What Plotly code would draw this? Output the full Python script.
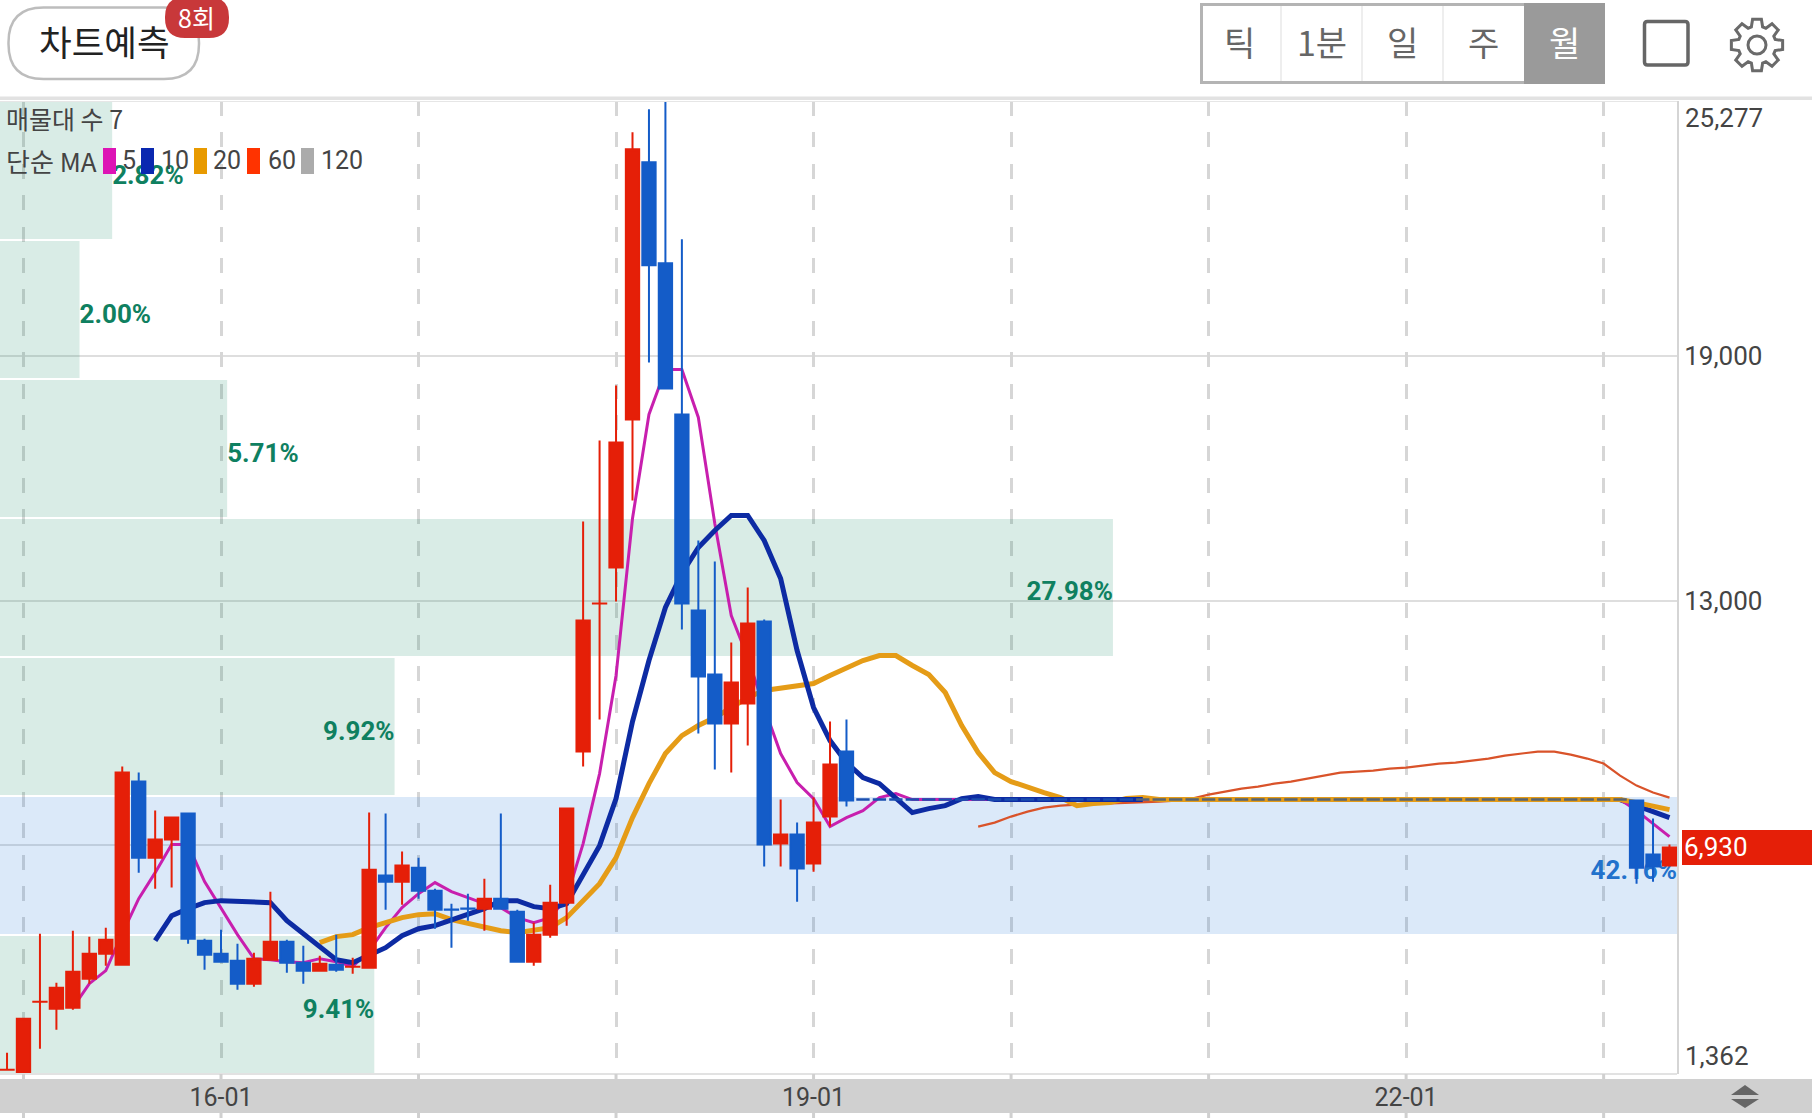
import math
import plotly.graph_objects as go

# monthly candles, index 0 = 14-12
months = list(range(102))
grid_months = [1, 13, 25, 37, 49, 61, 73, 85, 97]
grid_labels = ["", "16-01", "", "", "19-01", "", "", "22-01", ""]

candle_months = months[:52] + months[99:]
opens = [1466, 1362, 3138, 2967, 2992, 3705, 4320, 4049, 8549, 6680, 7123, 7762, 4639,
         4320, 4148, 3582, 4172, 4615, 4098, 3902, 4049, 3999, 3975, 6238, 6090, 6434,
         5869, 5403, 5427, 5426, 5672, 5352, 4123, 4787, 5574, 9287, 12925, 13811, 17451,
         23770, 21287, 17574, 12754, 11180, 9975, 10467, 12484, 7025, 7246, 6533, 7689, 9287,
         8082, 6754, 6484]
highs = [1885, 2721, 4811, 3607, 4885, 4738, 4959, 8918, 8770, 7836, 7664, 7762, 4689,
         4910, 4566, 4344, 5844, 4664, 4516, 4270, 4787, 4221, 7787, 7762, 6828, 6680,
         5918, 5549, 5795, 6164, 7762, 5402, 5082, 6016, 7885, 14943, 16934, 18287, 24508,
         25074, 25277, 21877, 14475, 13959, 11967, 13320, 12533, 8107, 7541, 8156, 10025, 10074,
         8082, 7639, 7000]
lows = [1466, 1362, 1984, 2451, 2943, 3582, 4025, 4049, 6311, 5918, 5943, 4566, 3926,
        4123, 3434, 3508, 4172, 3852, 3582, 3902, 3877, 3828, 3951, 5402, 5525, 5672,
        4934, 4467, 5131, 4885, 5426, 4098, 4025, 4713, 5008, 8918, 10074, 12975, 15459,
        18852, 18213, 12287, 9729, 8844, 8770, 9434, 6459, 6459, 5598, 6336, 7443, 7934,
        6041, 6090, 6484]
closes = [1467, 2721, 3139, 3484, 3877, 4320, 4664, 8770, 6680, 7123, 7664, 4689, 4295,
          4123, 3582, 4197, 4615, 4098, 3902, 4074, 3926, 4000, 6385, 6090, 6484, 5869,
          5402, 5402, 5426, 5672, 5426, 4123, 4787, 5574, 7885, 12508, 12926, 16885, 24090,
          21238, 18213, 12926, 11131, 9975, 10984, 12434, 7000, 7246, 6410, 7541, 8967, 8082,
          6434, 6459, 6930]

# months with no trading, price just stays put
flat_months_a = months[52:69]
flat_months_b = months[69:99]
flat_price = 8107

ma5 = [2992, 3582, 3902, 4811, 5672, 6311, 7000, 7000, 6090, 5426, 4787, 4197, 4172, 4123,
       4098, 4197, 4123, 4000, 4393, 4959, 5451, 5795, 6066, 5844, 5697, 5549, 5451, 5205,
       5082, 5205, 5697, 7025, 8746, 11156, 15016, 17574, 18680, 18680, 17500, 14893, 12631,
       11598, 10369, 9238, 8525, 8131, 7443, 7664, 7836, 8156, 8254] + [8107] * 44 + [7836, 7516, 7197]
# the orange line shows over this one from month 70 on, so its flat middle is left out
ma10_a = [4639, 5254, 5426, 5574, 5623, 5598, 5574, 5574, 5131, 4811, 4516, 4172, 4098, 4270,
          4467, 4762, 4934, 5008, 5156, 5303, 5426, 5623, 5623, 5475, 5426, 5549, 6238, 6975,
          8131, 10025, 11525, 12828, 13664, 14303, 14721, 15090, 15090, 14475, 13541, 11770,
          10369, 9557, 9016, 8648, 8500, 8156, 7787, 7885, 7959, 8131, 8180] + [8107] * 10
ma10_b = [8107, 7959, 7787, 7664]
ma20 = [4590, 4738, 4787, 4959, 5082, 5205, 5279, 5303, 5156, 5057, 4959, 4885, 4836, 4885,
        4959, 5205, 5623, 6041, 6680, 7664, 8500, 9238, 9680, 9926, 10123, 10369, 10615,
        10787, 10836, 10885, 10959, 11156, 11352, 11525, 11648, 11648, 11402, 11180, 10738,
        9926, 9262, 8770, 8549, 8402, 8279, 8156, 7959, 8008, 8033, 8131, 8156] + [8107] * 29 + [8033, 7934, 7861]
ma60 = [7443, 7541, 7689, 7811, 7910, 7959, 7984, 7996, 8008, 8020, 8033, 8057, 8082, 8131,
        8230, 8303, 8377, 8426, 8500, 8549, 8623, 8697, 8770, 8795, 8820, 8869, 8893, 8943,
        8992, 9016, 9066, 9115, 9189, 9238, 9287, 9287, 9213, 9115, 8992, 8697, 8451, 8279, 8156]

# volume profile, 7 price bins
bin_centers = [3070, 6486, 9903, 13320, 16736, 20152, 23569]
bin_size = 3416.4
bin_pct = [9.41, 42.16, 9.92, 27.98, 5.71, 2.00, 2.82]
bin_labels = ["9.41%", "42.16%", "9.92%", "27.98%", "5.71%", "2.00%", "2.82%"]
bin_text_pos = ["middle left", "middle left", "middle left", "middle left",
                "middle right", "middle right", "middle right"]
top_bin = 1

y_min = 1362
y_max = 25277
last_price = 6930

W, H = 1812, 1118
L, R, T, B = 0, 1677, 101, 1074
FONT = "Roboto"
KR = "Noto Sans CJK KR"
RED = "#E51F08"
BLUE = "#145CC8"
GREY_TXT = "#444444"


def px(x):
    return (x - L) / (R - L)


def py(y):
    return (B - y) / (B - T)


def round_rect(x0, y0, x1, y1, r):
    pts = f"M{px(x0 + r)},{py(y0)} L{px(x1 - r)},{py(y0)} Q{px(x1)},{py(y0)} {px(x1)},{py(y0 + r)} "
    pts += f"L{px(x1)},{py(y1 - r)} Q{px(x1)},{py(y1)} {px(x1 - r)},{py(y1)} "
    pts += f"L{px(x0 + r)},{py(y1)} Q{px(x0)},{py(y1)} {px(x0)},{py(y1 - r)} "
    pts += f"L{px(x0)},{py(y0 + r)} Q{px(x0)},{py(y0)} {px(x0 + r)},{py(y0)} Z"
    return pts


def box(x0, y0, x1, y1, fill, line=None, width=0):
    return dict(type="rect", xref="paper", yref="paper", x0=px(x0), x1=px(x1), y0=py(y0), y1=py(y1),
                fillcolor=fill, line=dict(color=line or fill, width=width))


def path(d, fill="rgba(0,0,0,0)", line="rgba(0,0,0,0)", width=0, layer="above"):
    return dict(type="path", xref="paper", yref="paper", path=d, fillcolor=fill,
                line=dict(color=line, width=width), layer=layer)


def text(x, y, s, size, color=GREY_TXT, family=FONT, anchor="left"):
    return dict(xref="paper", yref="paper", x=px(x), y=py(y), text=s, showarrow=False, xanchor=anchor,
                yanchor="middle", font=dict(family=family, size=size, color=color))


def gear(cx, cy, r_out, r_in, teeth=8):
    d = ""
    step = 2 * math.pi / teeth
    for i in range(teeth):
        a = -math.pi / 2 + i * step
        for da, r in [(-0.30, r_in), (-0.17, r_out), (0.17, r_out), (0.30, r_in)]:
            x = cx + r * math.cos(a + da)
            y = cy + r * math.sin(a + da)
            d += ("M" if d == "" else "L") + f"{px(x)},{py(y)} "
    return d + "Z"


def circle(cx, cy, r):
    return dict(type="circle", xref="paper", yref="paper", x0=px(cx - r), x1=px(cx + r),
                y0=py(cy - r), y1=py(cy + r), line=dict(color="#6a6a6a", width=3))


fig = go.Figure()

# profile bars go first so everything else sits on them
bar_colors = ["rgba(30,120,220,0.16)" if i == top_bin else "rgba(0,125,85,0.15)" for i in range(7)]
fig.add_trace(go.Bar(x=bin_pct, y=bin_centers, width=bin_size * 0.985, orientation="h",
                     marker=dict(color=bar_colors, line=dict(width=0)), xaxis="x", yaxis="y"))
txt_colors = ["#2272CC" if i == top_bin else "#0F8060" for i in range(7)]
fig.add_trace(go.Scatter(x=bin_pct, y=[c - 160 for c in bin_centers], text=bin_labels, mode="text",
                         textposition=bin_text_pos,
                         textfont=dict(family=FONT, size=26, color=txt_colors, weight="bold"),
                         xaxis="x", yaxis="y"))

NAVY = dict(color="#0D2BA3", width=5)
fig.add_trace(go.Scatter(x=months[98:], y=ma10_b, mode="lines", line=NAVY, xaxis="x2", yaxis="y"))
fig.add_trace(go.Scatter(x=months[59:], y=ma60, mode="lines", line=dict(color="#D9532A", width=2.2),
                         xaxis="x2", yaxis="y"))
fig.add_trace(go.Scatter(x=months[4:], y=ma5, mode="lines", line=dict(color="#C81FAE", width=3),
                         xaxis="x2", yaxis="y"))
fig.add_trace(go.Scatter(x=months[19:], y=ma20, mode="lines", line=dict(color="#E59C17", width=5),
                         xaxis="x2", yaxis="y"))
fig.add_trace(go.Scatter(x=months[9:70], y=ma10_a, mode="lines", line=NAVY, xaxis="x2", yaxis="y"))

# candles on their own overlaid y axis, they cover the MA lines in the original
fig.add_trace(go.Candlestick(x=candle_months, open=opens, high=highs, low=lows, close=closes,
                             increasing=dict(line=dict(color=RED, width=2), fillcolor=RED),
                             decreasing=dict(line=dict(color=BLUE, width=2), fillcolor=BLUE),
                             whiskerwidth=0, xaxis="x2", yaxis="y2"))
for m, col in [(flat_months_a, "#1B4FB0"), (flat_months_b, "#566474")]:
    p = [flat_price] * len(m)
    fig.add_trace(go.Candlestick(x=m, open=p, high=p, low=p, close=p,
                                 increasing=dict(line=dict(color=col, width=2.5), fillcolor=col),
                                 decreasing=dict(line=dict(color=col, width=2.5), fillcolor=col),
                                 whiskerwidth=0, xaxis="x2", yaxis="y2"))

shapes = [
    # x axis band
    dict(box(0, 1079, W, 1113, "#D0D0D0"), layer="below"),
    box(0, 1073, R, 1075, "#E2E2E2"),
    box(0, 96.5, W, 100, "#E2E2E2"),
    box(0, 101, R, 102, "#E6E6E6"),
    # price tag
    dict(type="rect", xref="paper", yref="y", x0=px(1682), x1=px(W), y0=last_price - 430, y1=last_price + 430,
         fillcolor=RED, line=dict(width=0)),
    # button + badge
    path(round_rect(8.5, 7.5, 199, 79, 35), "#FFFFFF", "#BDBDBD", 2.5),
    path(round_rect(165, -3, 229, 38, 20), "#C8383A"),
    # period selector
    box(1201.5, 4.5, 1603.5, 82.5, "#FFFFFF", "#B4B4B4", 3),
    box(1524, 3, 1605, 84, "#9A9A9A"),
    box(1280, 6, 1282, 81, "#EEEEEE"),
    box(1361, 6, 1363, 81, "#EEEEEE"),
    box(1442, 6, 1444, 81, "#EEEEEE"),
    # square + gear icons
    path(round_rect(1644.5, 21.5, 1688, 65, 3), "rgba(0,0,0,0)", "#666666", 3.5),
    path(gear(1757, 45, 26, 19), "rgba(0,0,0,0)", "#6A6A6A", 3),
    circle(1757, 45, 9),
    # legend swatches
    box(103, 148, 116, 174, "#DD14B5"),
    box(141, 148, 154, 174, "#0A28B0"),
    box(194, 148, 207, 174, "#E89A00"),
    box(247, 148, 260, 174, "#FF3300"),
    box(301, 148, 314, 174, "#ABABAB"),
    # up/down arrows at the end of the band
    path(f"M{px(1731)},{py(1095)} L{px(1745)},{py(1085)} L{px(1759)},{py(1095)} Z", "#666666"),
    path(f"M{px(1731)},{py(1099)} L{px(1745)},{py(1108)} L{px(1759)},{py(1099)} Z", "#666666"),
]
# stubs of the dashed lines around the band
for m in grid_months:
    for y0, y1 in [(1074, 1079), (1113, 1118)]:
        shapes.append(dict(type="line", xref="x2", yref="paper", x0=m, x1=m, y0=py(y0), y1=py(y1),
                           line=dict(color="#D0D0D0", width=3)))

annotations = [
    text(104, 41, "차트예측", 35.5, "#222222", KR, "center"),
    text(196.5, 17, "8회", 25, "#FFFFFF", KR, "center"),
    text(1239.5, 42, "틱", 34, "#666666", KR, "center"),
    text(1322, 42, "1분", 34, "#666666", KR, "center"),
    text(1402, 42, "일", 34, "#666666", KR, "center"),
    text(1483, 42, "주", 34, "#666666", KR, "center"),
    text(1564.5, 42, "월", 34, "#FFFFFF", KR, "center"),
    text(4, 118, "매물대 수 7", 25, GREY_TXT, KR),
    text(4, 160, "단순 MA", 26, GREY_TXT, KR),
    text(120, 161, "5", 25),
    text(159, 161, "10", 25),
    text(211, 161, "20", 25),
    text(266, 161, "60", 25),
    text(319, 161, "120", 25),
    text(1683, 118, "25,277", 26),
    text(1683, 1056, "1,362", 26),
    dict(xref="paper", yref="y", x=px(1682), y=last_price, text=f"{last_price:,}", showarrow=False,
         xanchor="left", yanchor="middle", font=dict(family=FONT, size=26, color="#FFFFFF")),
]

grid = "#D6D6D6"
fig.update_layout(
    width=W, height=H, margin=dict(l=L, r=W - R, t=T, b=H - B),
    paper_bgcolor="#FFFFFF", plot_bgcolor="#FFFFFF", showlegend=False, hovermode=False,
    barmode="overlay", boxgap=0.19, boxgroupgap=0,
    font=dict(family=FONT, color=GREY_TXT),
    xaxis=dict(range=[0, max(bin_pct)], visible=False, fixedrange=True),
    xaxis2=dict(range=[-0.427, 101.457], overlaying="x", side="bottom", anchor="y", tickmode="array",
                tickvals=grid_months, ticktext=grid_labels, showgrid=True, gridcolor=grid, gridwidth=3,
                griddash="15px,16.4px", zeroline=False, ticks="", showline=False,
                rangeslider=dict(visible=False), tickfont=dict(family=FONT, size=25, color=GREY_TXT),
                ticklabelstandoff=6),
    yaxis=dict(range=[y_min, y_max], side="right", tickmode="array", tickvals=[19000, 13000, 7000],
               ticktext=["19,000", "13,000", ""], showgrid=True, gridcolor="#DEDEDE", gridwidth=1.5,
               zeroline=False, showline=True, linecolor="#D5D5D5", linewidth=2, ticks="",
               tickfont=dict(family=FONT, size=26, color=GREY_TXT), ticklabelstandoff=0),
    yaxis2=dict(range=[y_min, y_max], overlaying="y", visible=False, anchor="x2"),
    shapes=shapes, annotations=annotations,
)

fig.write_html("out.html", config={"displayModeBar": False},
               post_script="document.body.style.margin='0';")
